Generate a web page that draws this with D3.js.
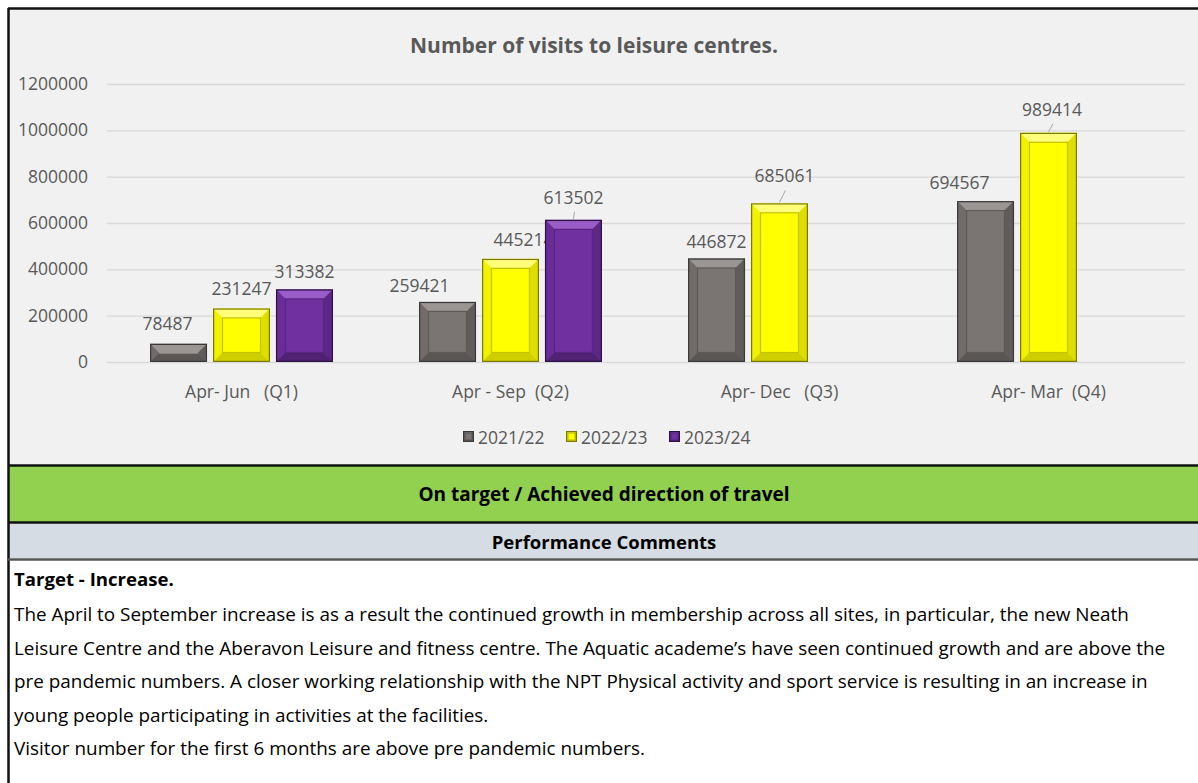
<!DOCTYPE html>
<html>
<head>
<meta charset="utf-8">
<script src="https://cdn.jsdelivr.net/npm/d3@7/dist/d3.min.js"></script>
<style>
	body { margin: 0; background: #fff; }
	svg text { font-family: "Open Sans", "Noto Sans", sans-serif; }
</style>
</head>
<body>
<div id="chart"></div>
<script>
var quarters = ["Apr- Jun   (Q1)", "Apr - Sep  (Q2)", "Apr- Dec   (Q3)", "Apr- Mar  (Q4)"];
var years = ["2021/22", "2022/23", "2023/24"];
var visits2122 = [78487, 259421, 446872, 694567];
var visits2223 = [231247, 445214, 685061, 989414];
var visits2324 = [313382, 613502, null, null];
var yTicks = [0, 200000, 400000, 600000, 800000, 1000000, 1200000];

var title = "Number of visits to leisure centres.";
var status = "On target / Achieved direction of travel";
var commentsHead = "Performance Comments";
var targetLine = "Target - Increase.";
var comments = [
	"The April to September increase is as a result the continued growth in membership across all sites, in particular, the new Neath",
	"Leisure Centre and the Aberavon Leisure and fitness centre. The Aquatic academe\u2019s have seen continued growth and are above the",
	"pre pandemic numbers. A closer working relationship with the NPT Physical activity and sport service is resulting in an increase in",
	"young people participating in activities at the facilities.",
	"Visitor number for the first 6 months are above pre pandemic numbers."
];

var width = 1198,
	height = 783;

// excel bevel look, one palette per series
var palette = {
	"2021/22": { face: "#7a7573", top: "#9b9694", left: "#716c6a", right: "#605c5b", bottom: "#5a5654", inner: "#5d5957", edge: "#3a3838" },
	"2022/23": { face: "#ffff00", top: "#ffff7a", left: "#f2f200", right: "#dede00", bottom: "#cfcf00", inner: "#c2c200", edge: "#7a7a00" },
	"2023/24": { face: "#7030a0", top: "#9a5cc6", left: "#6a2d98", right: "#5c2786", bottom: "#4f2274", inner: "#582581", edge: "#2c1145" }
};

// manual label nudges (dx, dy from bar top centre), like the dragged labels in the sheet
var labelNudge = {
	"0-0": [-11, -14], "0-1": [0, -13], "0-2": [0, -11],
	"1-0": [-28, -10], "1-1": [13, -13], "1-2": [0, -16],
	"2-0": [0, -10], "2-1": [5, -21],
	"3-0": [-26, -12], "3-1": [3.5, -17]
};
var leaders = ["1-2", "2-1", "3-1"];

var svg = d3.select("#chart").append("svg")
	.attr("width", width)
	.attr("height", height);

// panels
svg.append("rect")
	.attr("x", 9).attr("y", 9)
	.attr("width", width).attr("height", 456)
	.attr("fill", "#f1f1f1");

svg.append("rect")
	.attr("x", 9).attr("y", 466)
	.attr("width", width).attr("height", 56)
	.attr("fill", "#92d050");

svg.append("rect")
	.attr("x", 9).attr("y", 523)
	.attr("width", width).attr("height", 35)
	.attr("fill", "#d6dce4");

var borders = [[8, 8.5, width, 8.5], [8.5, 8, 8.5, height], [8, 465.5, width, 465.5], [8, 522.5, width, 522.5]];
svg.selectAll(".border")
	.data(borders)
	.enter()
	.append("line")
	.attr("class", "border")
	.attr("x1", function(d) { return d[0]; })
	.attr("y1", function(d) { return d[1]; })
	.attr("x2", function(d) { return d[2]; })
	.attr("y2", function(d) { return d[3]; })
	.attr("stroke", "#111")
	.attr("stroke-width", 2.5);

svg.append("line")
	.attr("x1", 8).attr("x2", width)
	.attr("y1", 559.5).attr("y2", 559.5)
	.attr("stroke", "#555")
	.attr("stroke-width", 2.5);

// scales
var y = d3.scaleLinear()
	.domain([0, 1200000])
	.range([362, 84]);

var x0 = d3.scaleBand()
	.domain(quarters)
	.range([107, 1183])
	.paddingInner(0.32)
	.paddingOuter(0.16);

var x1 = d3.scaleBand()
	.domain(years)
	.range([0, x0.bandwidth()])
	.paddingInner(0.095);

var chart = svg.append("g").attr("class", "plot");

// gridlines + y labels
var yAxis = d3.axisLeft(y)
	.tickValues(yTicks)
	.tickSize(-(1185 - 107))
	.tickPadding(19)
	.tickFormat(d3.format("d"));

chart.append("g")
	.attr("class", "y-axis")
	.attr("transform", "translate(107,0)")
	.call(yAxis)
	.call(function(g) {
		g.select(".domain").remove();
		g.selectAll(".tick line").attr("stroke", "#d9d9d9").attr("stroke-width", 1.3);
		g.selectAll(".tick text")
			.attr("fill", "#595959")
			.style("font-size", "17.5px")
			.style("font-family", "'Open Sans', sans-serif");
	});

// x labels
var xAxis = d3.axisBottom(x0)
	.tickSize(0)
	.tickPadding(24);

chart.append("g")
	.attr("class", "x-axis")
	.attr("transform", "translate(0,362)")
	.call(xAxis)
	.call(function(g) {
		g.select(".domain").remove();
		g.selectAll(".tick text")
			.attr("fill", "#595959")
			.style("white-space", "pre")
			.style("font-size", "17.5px")
			.style("font-family", "'Open Sans', sans-serif");
	});

var rows = quarters.map(function(q, i) {
	return {
		quarter: q,
		index: i,
		values: [
			{ year: "2021/22", value: visits2122[i] },
			{ year: "2022/23", value: visits2223[i] },
			{ year: "2023/24", value: visits2324[i] }
		].filter(function(d) { return d.value != null; })
	};
});

function polygon(g, pts, fill) {
	g.append("polygon")
		.attr("points", pts.map(function(p) { return p.join(","); }).join(" "))
		.attr("fill", fill);
}

function bevelBar(g, x, yy, w, h, c, size) {
	var b = Math.min(size, h / 2, w / 2);
	g.append("rect")
		.attr("x", x).attr("y", yy)
		.attr("width", w).attr("height", h)
		.attr("fill", c.face);
	polygon(g, [[x, yy], [x + w, yy], [x + w - b, yy + b], [x + b, yy + b]], c.top);
	polygon(g, [[x, yy], [x + b, yy + b], [x + b, yy + h - b], [x, yy + h]], c.left);
	polygon(g, [[x + w, yy], [x + w, yy + h], [x + w - b, yy + h - b], [x + w - b, yy + b]], c.right);
	polygon(g, [[x, yy + h], [x + b, yy + h - b], [x + w - b, yy + h - b], [x + w, yy + h]], c.bottom);
	if (h - 2 * b > 1) {
		g.append("rect")
			.attr("x", x + b).attr("y", yy + b)
			.attr("width", w - 2 * b).attr("height", h - 2 * b)
			.attr("fill", "none")
			.attr("stroke", c.inner)
			.attr("stroke-width", 1.2);
	} else {
		g.append("line")
			.attr("x1", x + b).attr("x2", x + w - b)
			.attr("y1", yy + h / 2).attr("y2", yy + h / 2)
			.attr("stroke", c.top)
			.attr("stroke-width", 1.5);
	}
	g.append("rect")
		.attr("x", x + 0.6).attr("y", yy + 0.6)
		.attr("width", w - 1.2).attr("height", h - 1.2)
		.attr("fill", "none")
		.attr("stroke", c.edge)
		.attr("stroke-width", 1.2);
}

var groups = chart.selectAll(".quarter")
	.data(rows)
	.enter()
	.append("g")
	.attr("class", "quarter")
	.attr("transform", function(d) { return "translate(" + x0(d.quarter) + ",0)"; });

groups.each(function(row) {
	var g = d3.select(this);
	row.values.forEach(function(d) {
		var bx = x1(d.year),
			bw = x1.bandwidth(),
			top = y(d.value),
			bh = y(0) - top;
		bevelBar(g.append("g").attr("class", "bar"), bx, top, bw, bh, palette[d.year], 9.5);

		var key = row.index + "-" + years.indexOf(d.year);
		var nudge = labelNudge[key] || [0, -11];
		var lx = bx + bw / 2 + nudge[0],
			ly = top + nudge[1];

		if (leaders.indexOf(key) >= 0) {
			g.append("line")
				.attr("x1", lx + 1).attr("y1", ly + 8)
				.attr("x2", bx + bw / 2).attr("y2", top - 1)
				.attr("stroke", "#a6a6a6")
				.attr("stroke-width", 1);
		}

		g.append("text")
			.attr("class", "value")
			.attr("x", lx)
			.attr("y", ly)
			.attr("text-anchor", "middle")
			.attr("fill", "#595959")
			.style("font-size", "17.5px")
			.text(d.value);
	});
});

// title
svg.append("text")
	.attr("x", 594)
	.attr("y", 53)
	.attr("text-anchor", "middle")
	.attr("fill", "#595959")
	.style("font-size", "21px")
	.style("font-weight", "bold")
	.text(title);

// legend
var legend = svg.append("g")
	.attr("class", "legend")
	.attr("transform", "translate(463,431)");

var item = legend.selectAll(".item")
	.data(years)
	.enter()
	.append("g")
	.attr("class", "item")
	.attr("transform", function(d, i) { return "translate(" + (i * 103) + ",0)"; });

item.each(function(d) {
	bevelBar(d3.select(this), 0, 0, 11, 11, palette[d], 2);
});

item.append("text")
	.attr("x", 15)
	.attr("y", 12.5)
	.attr("fill", "#595959")
	.style("font-size", "17.5px")
	.text(function(d) { return d; });

// status banners
svg.append("text")
	.attr("x", 604)
	.attr("y", 501)
	.attr("text-anchor", "middle")
	.attr("fill", "#000")
	.style("font-size", "19px")
	.style("font-weight", "bold")
	.text(status);

svg.append("text")
	.attr("x", 604)
	.attr("y", 549)
	.attr("text-anchor", "middle")
	.attr("fill", "#000")
	.style("font-size", "18.5px")
	.style("font-weight", "bold")
	.text(commentsHead);

svg.append("text")
	.attr("x", 14)
	.attr("y", 586)
	.attr("fill", "#000")
	.style("font-size", "18.6px")
	.style("font-weight", "bold")
	.text(targetLine);

var body = svg.append("g").attr("class", "comments");

body.selectAll("text")
	.data(comments)
	.enter()
	.append("text")
	.attr("x", 14)
	.attr("y", function(d, i) { return 621 + i * 33.5; })
	.attr("fill", "#000")
	.style("font-size", "18px")
	.text(function(d) { return d; });

// squeeze the comment font so the long lines fit the width they had in the sheet
var lens = body.selectAll("text").nodes().map(function(n) { return n.getComputedTextLength(); });
var fs = Math.min(18 * 1156 / lens[0], 18 * 1176 / lens[1], 18 * 1134 / lens[2]);
body.selectAll("text").style("font-size", fs + "px");
</script>
</body>
</html>
